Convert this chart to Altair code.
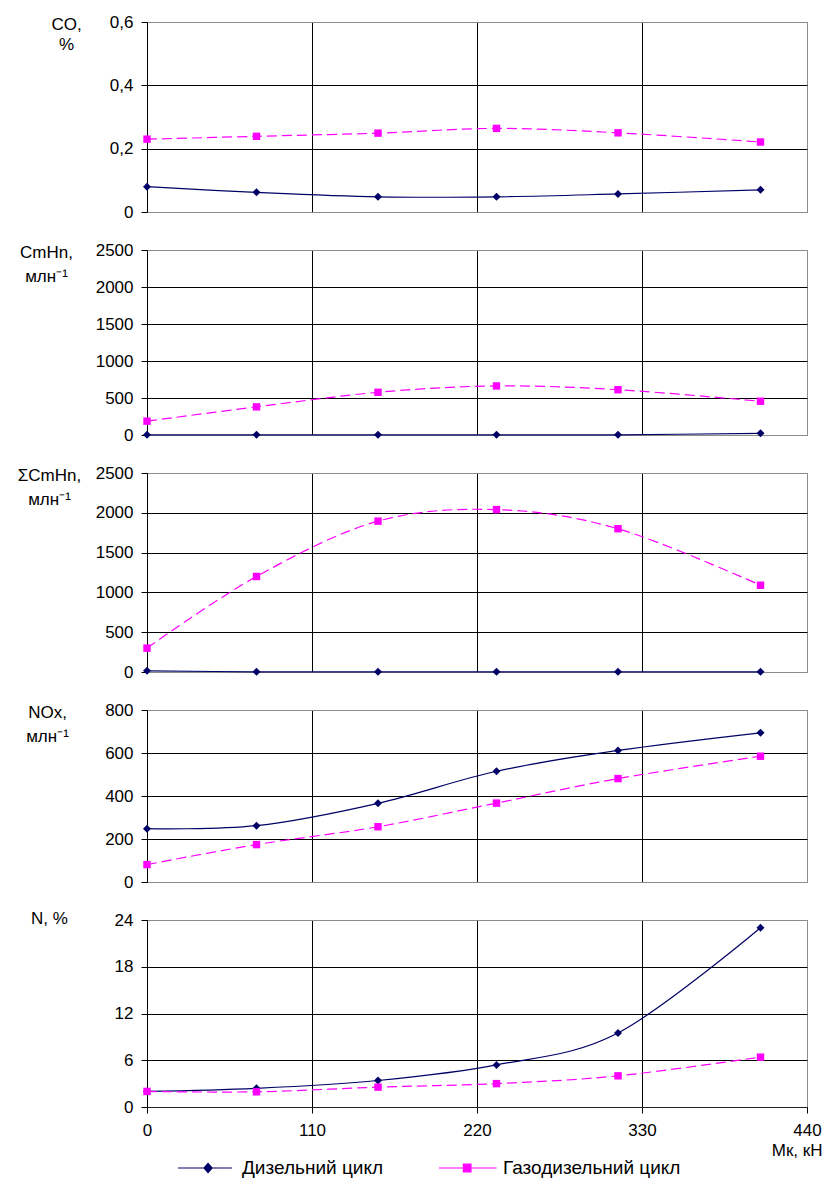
import altair as alt
import pandas as pd

# ---------------- data ----------------
X = [0, 73, 154, 233, 314, 409]
SERIES = ["Дизельний цикл", "Газодизельний цикл"]
COLORS = ["#000066", "#ff00ff"]
X_TICKS = [0, 110, 220, 330, 440]

co_diesel = [0.080, 0.062, 0.048, 0.048, 0.057, 0.070]
co_gas = [0.230, 0.239, 0.249, 0.264, 0.250, 0.221]

cmhn_diesel = [2, 2, 2, 2, 3, 22]
cmhn_gas = [187, 380, 577, 663, 612, 456]

sum_diesel = [15, 2, 2, 2, 2, 2]
sum_gas = [300, 1200, 1895, 2040, 1800, 1090]

nox_diesel = [248, 262, 366, 515, 612, 694]
nox_gas = [81, 174, 257, 367, 481, 585]

n_diesel = [2.0, 2.4, 3.4, 5.4, 9.5, 23.0]
n_gas = [2.0, 1.95, 2.55, 3.0, 4.0, 6.4]

CO_TICKS = [0, 0.2, 0.4, 0.6]
CMHN_TICKS = [0, 500, 1000, 1500, 2000, 2500]
NOX_TICKS = [0, 200, 400, 600, 800]
N_TICKS = [0, 6, 12, 18, 24]

FONT = "Liberation Sans, Arial, sans-serif"
GRAY = "#8c8c8c"

panels = [
    dict(title=["CO,", "%"], d=co_diesel, g=co_gas, ticks=CO_TICKS, h=190, tx=-81, ty=-6, lh=20,
         expr="datum.value == 0 ? '0' : replace(format(datum.value, '.1f'), '.', ',')"),
    dict(title=["CmHn,", "млн⁻¹"], d=cmhn_diesel, g=cmhn_gas, ticks=CMHN_TICKS, h=185, tx=-101, ty=-6, lh=24),
    dict(title=["ΣCmHn,", "млн⁻¹"], d=sum_diesel, g=sum_gas, ticks=CMHN_TICKS, h=199, tx=-98, ty=-6, lh=24),
    dict(title=["NOx,", "млн⁻¹"], d=nox_diesel, g=nox_gas, ticks=NOX_TICKS, h=172, tx=-100, ty=-6, lh=24),
    dict(title="N, %", d=n_diesel, g=n_gas, ticks=N_TICKS, h=187, tx=-98, ty=-10, lh=24),
]

# legend symbols: a line segment with the marker on it
DIAMOND_PATH = "M-2.9,0H3.1M0.45,-0.5L0.9,0L0.45,0.5L0,0Z"
SQUARE_PATH = "M-2.9,0H3.5M-0.18,-0.42H0.66V0.42H-0.18Z"

LEGEND = alt.Legend(
    orient="none", legendX=47, legendY=1136, direction="horizontal", title=None,
    symbolSize=324, symbolStrokeWidth=1.2, labelOffset=28, columnPadding=52,
    labelFont=FONT, labelFontSize=19, labelColor="#000000", symbolOpacity=1,
    labelLimit=400,
)

x_grid_color = {"condition": {"test": "datum.value >= 440", "value": GRAY}, "value": "#000000"}


def make_panel(p, bottom):
    df = pd.DataFrame({
        "x": X + X,
        "y": p["d"] + p["g"],
        "series": [SERIES[0]] * len(X) + [SERIES[1]] * len(X),
    })
    ymax = p["ticks"][-1]
    test = f"datum.value >= {ymax}" if bottom else f"datum.value >= {ymax} || datum.value == 0"
    ykw = dict(
        values=p["ticks"], title=p["title"], titleX=p["tx"], titleY=p["ty"], titleAngle=0,
        titleAlign="center", titleBaseline="top", titleLineHeight=p["lh"],
        tickSize=6, labelPadding=8,
        gridColor={"condition": {"test": test, "value": GRAY}, "value": "#000000"},
    )
    if "expr" in p:
        ykw["labelExpr"] = p["expr"]
    else:
        ykw["format"] = "d"
    yaxis = alt.Axis(**ykw)
    if bottom:
        xaxis = alt.Axis(values=X_TICKS, title="Мк, кН", titleX=675, titleY=43, titleAlign="right",
                         titleBaseline="middle", titleAnchor="end", tickSize=6, labelPadding=9,
                         format="d", gridColor=x_grid_color, domainColor="#222222",
                         labelFlush=False)
    else:
        xaxis = alt.Axis(values=X_TICKS, labels=False, ticks=False, domain=False, title=None,
                         gridColor=x_grid_color)
    x = alt.X("x:Q", scale=alt.Scale(domain=[0, 440], nice=False, zero=False), axis=xaxis)
    y = alt.Y("y:Q", scale=alt.Scale(domain=[0, ymax], nice=False), axis=yaxis)
    cscale = alt.Scale(domain=SERIES, range=COLORS)
    color = alt.Color("series:N", scale=cscale, legend=LEGEND)
    is_d = f"datum.series == '{SERIES[0]}'"
    is_g = f"datum.series == '{SERIES[1]}'"
    line_d = alt.Chart(df).transform_filter(is_d).mark_line(
        interpolate="cardinal", strokeWidth=1.2).encode(x=x, y=y, color=color)
    line_g = alt.Chart(df).transform_filter(is_g).mark_line(
        interpolate="cardinal", strokeWidth=1.2, strokeDash=[10, 5]).encode(x=x, y=y, color=color)
    pts_d = alt.Chart(df).transform_filter(is_d).mark_point(
        filled=True, size=64, opacity=1, shape="diamond").encode(x=x, y=y, color=color)
    pts_g = alt.Chart(df).transform_filter(is_g).mark_point(
        filled=True, size=55, opacity=1, shape="square").encode(x=x, y=y, color=color)
    layers = [line_d, line_g, pts_d, pts_g]
    if bottom:
        leg = alt.Chart(df).transform_filter("false").mark_point(filled=True, opacity=1).encode(
            x=x, y=y,
            color=color,
            stroke=alt.Stroke("series:N", scale=cscale, legend=LEGEND),
            shape=alt.Shape("series:N", scale=alt.Scale(domain=SERIES, range=[DIAMOND_PATH, SQUARE_PATH]),
                            legend=LEGEND),
        )
        layers.insert(0, leg)
    return alt.layer(*layers).properties(width=660, height=p["h"])


charts = [make_panel(p, i == len(panels) - 1) for i, p in enumerate(panels)]

chart = alt.vconcat(*charts, spacing=38, bounds="flush").properties(
    padding={"left": 8, "top": 4, "right": 0, "bottom": 0},
    background="white",
).configure_view(
    stroke=GRAY, strokeWidth=1
).configure_axis(
    labelFont=FONT, titleFont=FONT, labelFontSize=17, titleFontSize=17,
    labelColor="#000000", titleColor="#000000", titleFontWeight="normal",
    domainColor="#000000", tickColor="#000000", gridOpacity=1, gridWidth=1,
    domainWidth=1, tickWidth=1,
)

chart.save("out.html", embed_options={"renderer": "svg", "actions": False})
